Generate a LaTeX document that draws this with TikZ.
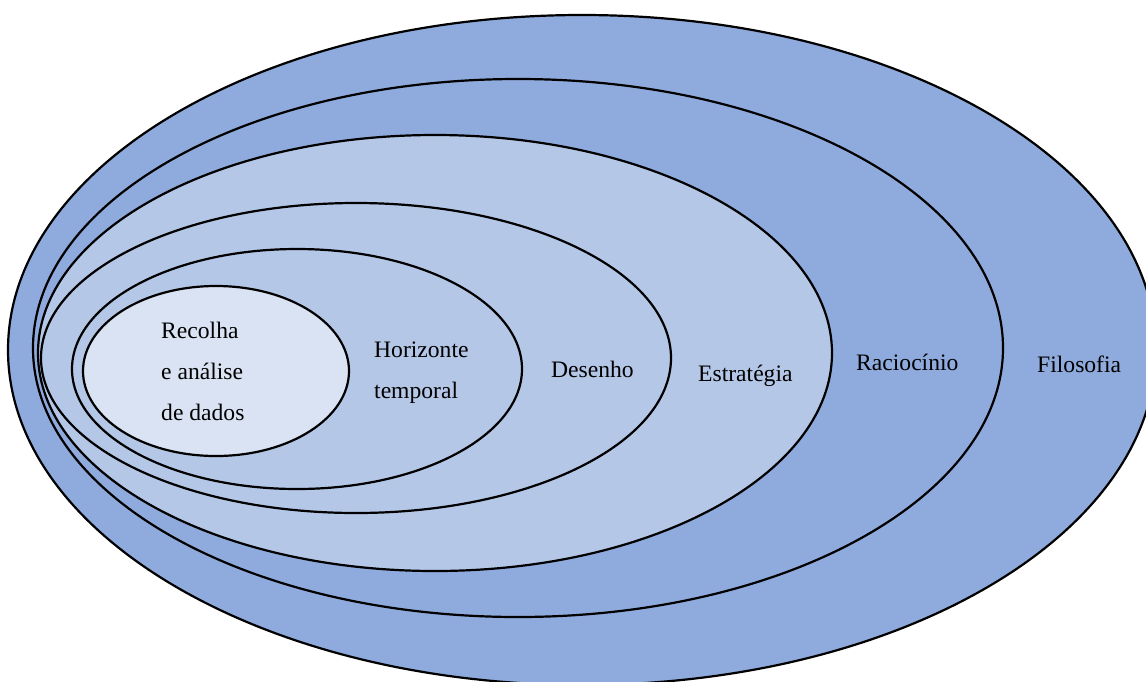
\documentclass[tikz,border=0pt]{standalone}
\usepackage{fontspec}
\setmainfont{Liberation Serif}
\definecolor{outerblue}{HTML}{8FAADC}
\definecolor{midblue}{HTML}{B4C7E7}
\definecolor{paleblue}{HTML}{DAE3F3}
\begin{document}
\begin{tikzpicture}[x=1pt,y=-1pt,
  ring/.style={draw=black,line width=2.2pt},
  lbl/.style={anchor=base west,inner sep=0pt,font=\fontsize{23.6}{41}\selectfont}]
\useasboundingbox (0,0) rectangle (1146,681);
\begin{scope}
\clip (0,0) rectangle (1146,681);
\filldraw[ring,fill=outerblue] (582,350) ellipse [x radius=574,y radius=335];
\filldraw[ring,fill=outerblue] (518,348) ellipse [x radius=485,y radius=269];
\filldraw[ring,fill=midblue] (435,353) ellipse [x radius=397,y radius=218];
\filldraw[ring,fill=midblue] (356,358) ellipse [x radius=315,y radius=155];
\filldraw[ring,fill=midblue] (297,369) ellipse [x radius=225,y radius=120];
\filldraw[ring,fill=paleblue] (216,371) ellipse [x radius=133,y radius=85];
\end{scope}
\node[lbl] (rec1) at (161,338) {Recolha};
\node[lbl] (rec2) at (161,379) {e análise};
\node[lbl] (rec3) at (161,420) {de dados};
\node[lbl] (hor1) at (374,357) {Horizonte};
\node[lbl] (hor2) at (374,398) {temporal};
\node[lbl] (des) at (551,377) {Desenho};
\node[lbl] (est) at (698,381) {Estratégia};
\node[lbl] (rac) at (856,370) {Raciocínio};
\node[lbl] (fil) at (1037,372) {Filosofia};
\end{tikzpicture}
\end{document}
